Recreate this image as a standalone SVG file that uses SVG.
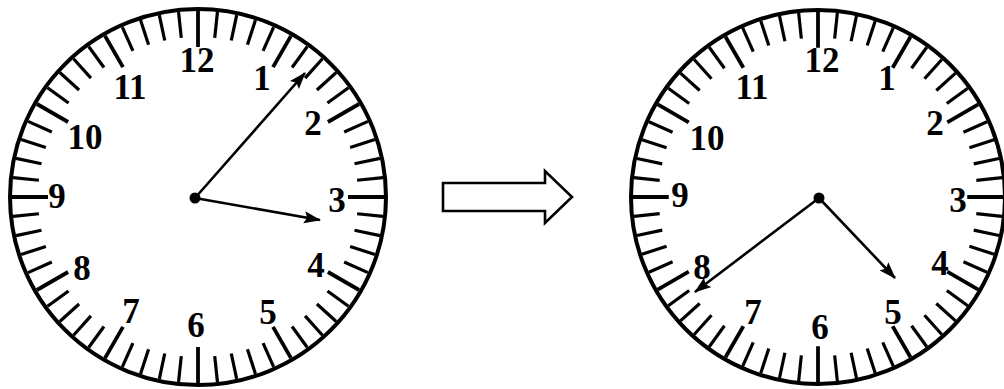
<svg xmlns="http://www.w3.org/2000/svg" xmlns:xlink="http://www.w3.org/1999/xlink" width="1004" height="389" viewBox="0 0 1004 389">
<style>
.num{font-family:"Liberation Serif","Times New Roman",serif;font-weight:bold;font-size:35px;text-anchor:middle;fill:#000}
.rim{fill:#fff;stroke:#000;stroke-width:4}
.tk{stroke:#000;stroke-width:3.2}
.hk{stroke:#000;stroke-width:3.8}
.hand{stroke:#000;stroke-width:2.6;fill:none}
</style>
<defs>
<marker id="ah" markerUnits="userSpaceOnUse" markerWidth="18" markerHeight="14" refX="16" refY="6" orient="auto">
<path d="M0,0 L17,6 L0,12 L3,6 z" fill="#000"/>
</marker>
<line id="t" class="tk" x1="0" y1="-186" x2="0" y2="-160"/>
<line id="h" class="hk" x1="0" y1="-186" x2="0" y2="-150"/>
<g id="ticks">
<use href="#h" transform="rotate(0)"/><use href="#t" transform="rotate(6)"/><use href="#t" transform="rotate(12)"/><use href="#t" transform="rotate(18)"/><use href="#t" transform="rotate(24)"/>
<use href="#h" transform="rotate(30)"/><use href="#t" transform="rotate(36)"/><use href="#t" transform="rotate(42)"/><use href="#t" transform="rotate(48)"/><use href="#t" transform="rotate(54)"/>
<use href="#h" transform="rotate(60)"/><use href="#t" transform="rotate(66)"/><use href="#t" transform="rotate(72)"/><use href="#t" transform="rotate(78)"/><use href="#t" transform="rotate(84)"/>
<use href="#h" transform="rotate(90)"/><use href="#t" transform="rotate(96)"/><use href="#t" transform="rotate(102)"/><use href="#t" transform="rotate(108)"/><use href="#t" transform="rotate(114)"/>
<use href="#h" transform="rotate(120)"/><use href="#t" transform="rotate(126)"/><use href="#t" transform="rotate(132)"/><use href="#t" transform="rotate(138)"/><use href="#t" transform="rotate(144)"/>
<use href="#h" transform="rotate(150)"/><use href="#t" transform="rotate(156)"/><use href="#t" transform="rotate(162)"/><use href="#t" transform="rotate(168)"/><use href="#t" transform="rotate(174)"/>
<use href="#h" transform="rotate(180)"/><use href="#t" transform="rotate(186)"/><use href="#t" transform="rotate(192)"/><use href="#t" transform="rotate(198)"/><use href="#t" transform="rotate(204)"/>
<use href="#h" transform="rotate(210)"/><use href="#t" transform="rotate(216)"/><use href="#t" transform="rotate(222)"/><use href="#t" transform="rotate(228)"/><use href="#t" transform="rotate(234)"/>
<use href="#h" transform="rotate(240)"/><use href="#t" transform="rotate(246)"/><use href="#t" transform="rotate(252)"/><use href="#t" transform="rotate(258)"/><use href="#t" transform="rotate(264)"/>
<use href="#h" transform="rotate(270)"/><use href="#t" transform="rotate(276)"/><use href="#t" transform="rotate(282)"/><use href="#t" transform="rotate(288)"/><use href="#t" transform="rotate(294)"/>
<use href="#h" transform="rotate(300)"/><use href="#t" transform="rotate(306)"/><use href="#t" transform="rotate(312)"/><use href="#t" transform="rotate(318)"/><use href="#t" transform="rotate(324)"/>
<use href="#h" transform="rotate(330)"/><use href="#t" transform="rotate(336)"/><use href="#t" transform="rotate(342)"/><use href="#t" transform="rotate(348)"/><use href="#t" transform="rotate(354)"/>
</g>
</defs>
<rect width="1004" height="389" fill="#fff"/>

<g id="clock-left">
<circle class="rim" cx="198" cy="197" r="188"/>
<use href="#ticks" transform="translate(198,197)"/>
<text class="num" x="197" y="72">12</text>
<text class="num" x="262" y="90">1</text>
<text class="num" x="313" y="135">2</text>
<text class="num" x="337" y="212">3</text>
<text class="num" x="316" y="277">4</text>
<text class="num" x="268" y="324">5</text>
<text class="num" x="196" y="337">6</text>
<text class="num" x="131" y="323">7</text>
<text class="num" x="82" y="280">8</text>
<text class="num" x="57" y="208">9</text>
<text class="num" x="85" y="149">10</text>
<text class="num" x="130" y="99">11</text>
</g>

<g id="clock-right">
<circle class="rim" cx="818" cy="197" r="187"/>
<use href="#ticks" transform="translate(818,197) scale(0.995)"/>
<text class="num" x="822" y="72">12</text>
<text class="num" x="887" y="90">1</text>
<text class="num" x="935" y="135">2</text>
<text class="num" x="958" y="212">3</text>
<text class="num" x="940" y="275">4</text>
<text class="num" x="893" y="324">5</text>
<text class="num" x="820" y="339">6</text>
<text class="num" x="753" y="324">7</text>
<text class="num" x="702" y="279">8</text>
<text class="num" x="680" y="207">9</text>
<text class="num" x="707" y="150">10</text>
<text class="num" x="752" y="99">11</text>
</g>

<g id="connectors">
<line class="hand" x1="195" y1="198" x2="305" y2="73" marker-end="url(#ah)"/>
<line class="hand" x1="195" y1="198" x2="320" y2="220" marker-end="url(#ah)"/>
<circle cx="195" cy="198" r="5.5" fill="#000"/>
<line class="hand" x1="819" y1="198" x2="695" y2="292" marker-end="url(#ah)"/>
<line class="hand" x1="819" y1="198" x2="895" y2="278" marker-end="url(#ah)"/>
<circle cx="819" cy="198" r="5.5" fill="#000"/>
</g>

<g id="transition-arrow">
<polygon points="443,183 545,183 545,171 572,197 545,223 545,211 443,211" fill="#fff" stroke="#000" stroke-width="2.6" stroke-linejoin="miter"/>
</g>
</svg>
